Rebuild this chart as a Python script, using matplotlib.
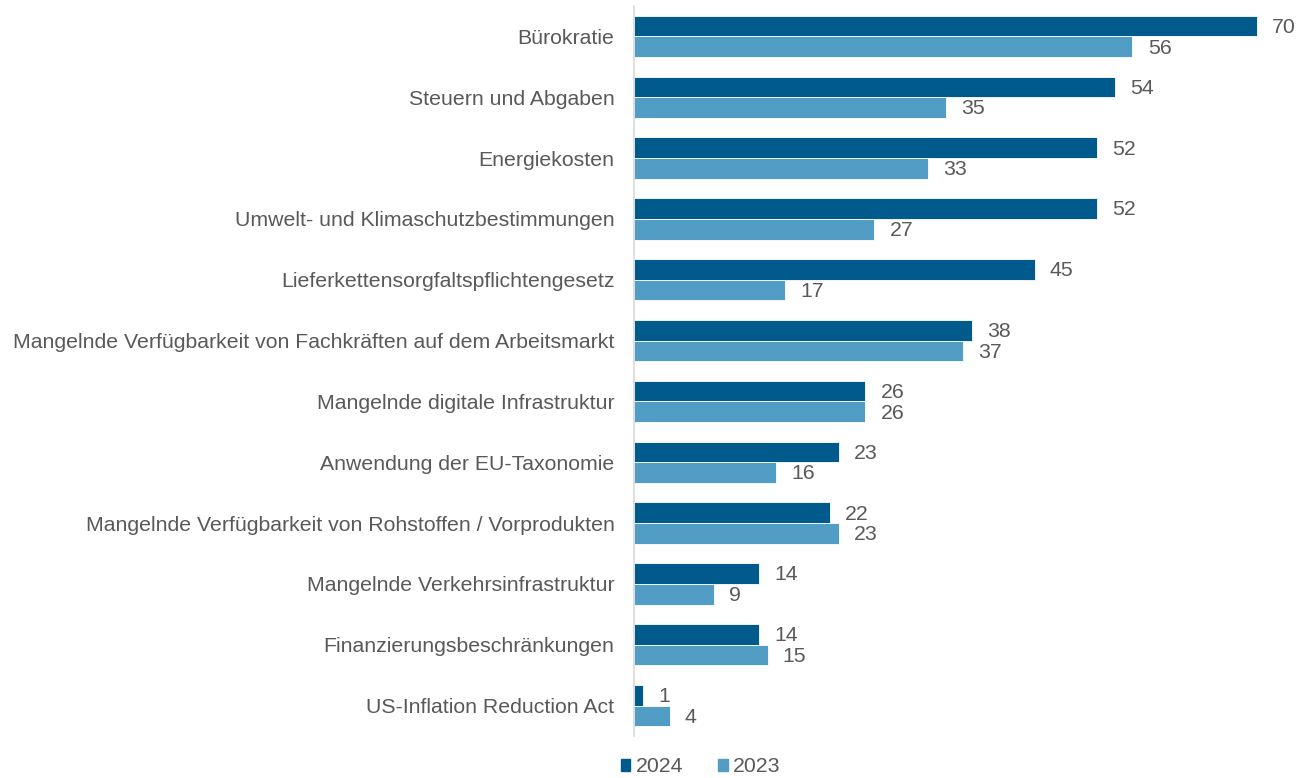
import numpy as np
import matplotlib.pyplot as plt
from matplotlib.patches import Patch

plt.rcParams["font.family"] = ["Liberation Sans", "DejaVu Sans"]

categories = [
    "Bürokratie",
    "Steuern und Abgaben",
    "Energiekosten",
    "Umwelt- und Klimaschutzbestimmungen",
    "Lieferkettensorgfaltspflichtengesetz",
    "Mangelnde Verfügbarkeit von Fachkräften auf dem Arbeitsmarkt",
    "Mangelnde digitale Infrastruktur",
    "Anwendung der EU-Taxonomie",
    "Mangelnde Verfügbarkeit von Rohstoffen / Vorprodukten",
    "Mangelnde Verkehrsinfrastruktur",
    "Finanzierungsbeschränkungen",
    "US-Inflation Reduction Act",
]
values_2024 = [70, 54, 52, 52, 45, 38, 26, 23, 22, 14, 14, 1]
values_2023 = [56, 35, 33, 27, 17, 37, 26, 16, 23, 9, 15, 4]

color_2024 = "#005A8C"
color_2023 = "#519DC5"
text_color = "#595959"
fs = 15.3

fig = plt.figure(figsize=(13.06, 7.78), dpi=100)
ax = fig.add_axes([634 / 1306, 1 - 736 / 778, 672 / 1306, 730 / 778])

y = np.arange(len(categories))
h = 0.34

bars24 = ax.barh(y - h / 2, values_2024, height=h, color=color_2024,
                 edgecolor="white", linewidth=0.6, label="2024")
bars23 = ax.barh(y + h / 2, values_2023, height=h, color=color_2023,
                 edgecolor="white", linewidth=0.6, label="2023")

for bars, vals in [(bars24, values_2024), (bars23, values_2023)]:
    for bar, v in zip(bars, vals):
        ax.annotate(str(v), (bar.get_width(), bar.get_y() + bar.get_height() / 2),
                    xytext=(11, -1), textcoords="offset points",
                    ha="left", va="center", fontsize=fs, color=text_color)

ax.set_xlim(0, 672 / 8.9)
ax.set_ylim(len(categories) - 0.5, -0.5)
ax.set_yticks(y)
ax.set_yticklabels(categories, fontsize=fs, color=text_color)
ax.tick_params(axis="y", length=0, pad=14)
ax.set_xticks([])

for side in ["top", "right", "bottom"]:
    ax.spines[side].set_visible(False)
ax.spines["left"].set_color("#D9D9D9")
ax.spines["left"].set_linewidth(1.2)

handles = [Patch(color=color_2024, label="2024"), Patch(color=color_2023, label="2023")]
leg = fig.legend(handles=handles, loc="center", bbox_to_anchor=(700.5 / 1306, 1 - 767 / 778),
                 ncol=2, frameon=False, fontsize=fs, handlelength=0.45, handleheight=0.45,
                 handletextpad=0.25, columnspacing=1.65, borderpad=0)
for t in leg.get_texts():
    t.set_color(text_color)

plt.savefig("out.png", dpi=100)
plt.close()
